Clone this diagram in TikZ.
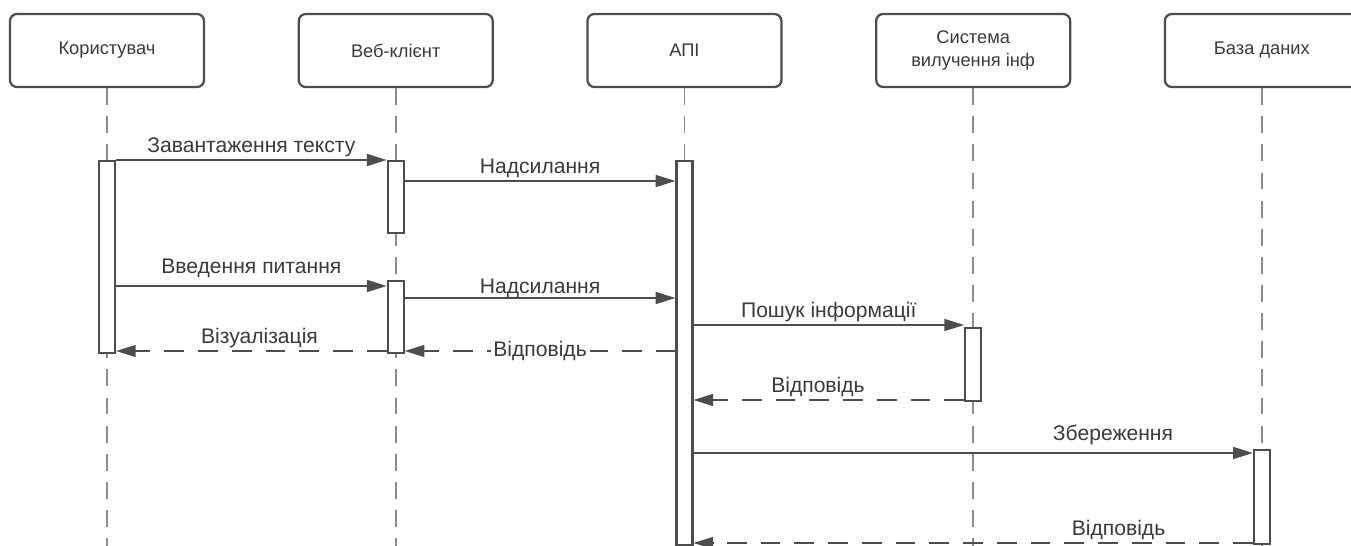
\documentclass[tikz,border=0pt]{standalone}
\usepackage{fontspec}
\setmainfont{Liberation Sans}
\usetikzlibrary{positioning, arrows.meta}
\definecolor{linegray}{HTML}{4D4D4D}
\definecolor{txtgray}{HTML}{3A3A3A}
\definecolor{lifegray}{HTML}{8C8C8C}
\tikzset {
    actor/.style={draw=linegray, line width=1.6pt, rounded corners=5pt, fill=white,
        minimum width=4.85cm, minimum height=1.825cm, align=center,
        font=\fontsize{13}{16}\selectfont, text=txtgray},
    bar/.style={draw=linegray, line width=1.5pt, fill=white, minimum width=0.4cm,
        inner sep=0pt, anchor=north},
    lifeline/.style={draw=lifegray, line width=1.3pt, dash pattern=on 12pt off 8pt},
    msg/.style={draw=linegray, line width=1.1pt, -{Triangle[length=14pt, width=8.5pt]}},
    reply/.style={msg, dash pattern=on 14pt off 10pt},
    lbl/.style={text=txtgray, font=\fontsize{15}{17}\selectfont, inner sep=2pt}
}

\begin{document}
\begin{tikzpicture}[x=0.025cm, y=-0.025cm, node distance=2.31cm]
    \path[use as bounding box, clip] (0,0) rectangle (1351,546);

    % participants
    \node[actor] (user) at (107,50.5) {Користувач};
    \node[actor, right=of user] (web) {Веб-клієнт};
    \node[actor, right=of web] (api) {АПІ};
    \node[actor, right=of api] (ext) {Система\\вилучення інф};
    \node[actor, right=of ext] (db) {База даних};

    \foreach \p in {user, web, api, ext, db}
        \draw[lifeline] (\p.south) -- (\p.south |- 0,546);

    % activations
    \node[bar, minimum height=4.8cm] (userbar) at (user.south |- 0,160) {};
    \node[bar, minimum height=1.8cm] (web1bar) at (web.south |- 0,160) {};
    \node[bar, minimum height=1.8cm] (web2bar) at (web.south |- 0,280) {};
    \node[bar, minimum height=9.6cm] (apibar) at (api.south |- 0,160) {};
    \node[bar, minimum height=1.825cm] (extbar) at (ext.south |- 0,327) {};
    \node[bar, minimum height=2.35cm] (dbbar) at (db.south |- 0,449) {};

    % messages
    \draw[msg] (userbar.east |- 0,160) -- node[lbl, above] {Завантаження тексту} (web1bar.west |- 0,160);
    \draw[msg] (web1bar.east |- 0,181) -- node[lbl, above] {Надсилання} (apibar.west |- 0,181);
    \draw[msg] (userbar.east |- 0,286) -- node[lbl, above, yshift=3pt] {Введення питання} (web2bar.west |- 0,286);
    \draw[msg] (web2bar.east |- 0,298) -- node[lbl, above, yshift=-2pt] {Надсилання} (apibar.west |- 0,298);
    \draw[msg] (apibar.east |- 0,325) -- node[lbl, above] {Пошук інформації} (extbar.west |- 0,325);
    \draw[reply] (web2bar.west |- 0,351) -- node[lbl, above, pos=0.47] {Візуалізація} (userbar.east |- 0,351);
    \draw[reply] (apibar.west |- 0,351) -- node[lbl, fill=white] {Відповідь} (web2bar.east |- 0,351);
    \draw[reply] (extbar.west |- 0,400) -- node[lbl, above, pos=0.54] {Відповідь} (apibar.east |- 0,400);
    \draw[msg] (apibar.east |- 0,453) -- node[lbl, above, pos=0.75, yshift=3pt] {Збереження} (dbbar.west |- 0,453);
    \draw[reply] (dbbar.west |- 0,543) -- node[lbl, above, pos=0.24] {Відповідь} (apibar.east |- 0,543);
\end{tikzpicture}
\end{document}
